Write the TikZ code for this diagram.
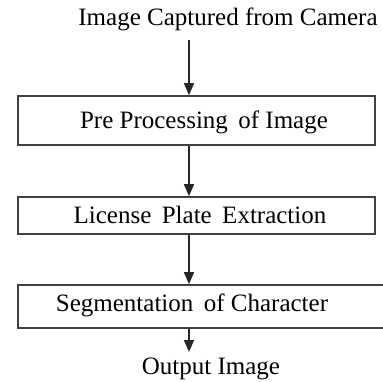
\documentclass[tikz,border=0pt]{standalone}
\usepackage{fontspec}
\setmainfont{Liberation Serif}
\usetikzlibrary{arrows.meta}
\begin{document}
\begin{tikzpicture}[x=1pt,y=-1pt,
  box/.style={draw=black!75,line width=1.6pt,inner sep=0pt},
  lbl/.style={font=\fontsize{25}{28}\selectfont,inner sep=0pt},
  arr/.style={draw=black!85,line width=1.4pt,-{Triangle[width=10pt,length=12pt]}}]
\useasboundingbox (0,0) rectangle (383,381);
\node[lbl] (t0) at (228,19) {Image Captured from Camera};
\node[box,minimum width=357pt,minimum height=49pt] (b1) at (196.5,120.5) {};
\node[lbl] (l1) at (204,122) {Pre Processing\, of Image};
\node[box,minimum width=357pt,minimum height=37pt] (b2) at (196.5,215.5) {};
\node[lbl] (l2) at (200,215) {License\, Plate\, Extraction};
\node[box,minimum width=380pt,minimum height=43pt] (b3) at (208,306.5) {};
\node[lbl] (l3) at (192,305) {Segmentation\, of Character};
\node[lbl] (t4) at (211,369) {Output Image};
\coordinate (a0s) at (189,40);
\coordinate (a4e) at (189,352);
\draw[arr] (a0s) -- (a0s |- b1.north);
\draw[arr] (b1.south -| a0s) -- (b2.north -| a0s);
\draw[arr] (b2.south -| a0s) -- (b3.north -| a0s);
\draw[arr] (b3.south -| a0s) -- (a4e);
\end{tikzpicture}
\end{document}
